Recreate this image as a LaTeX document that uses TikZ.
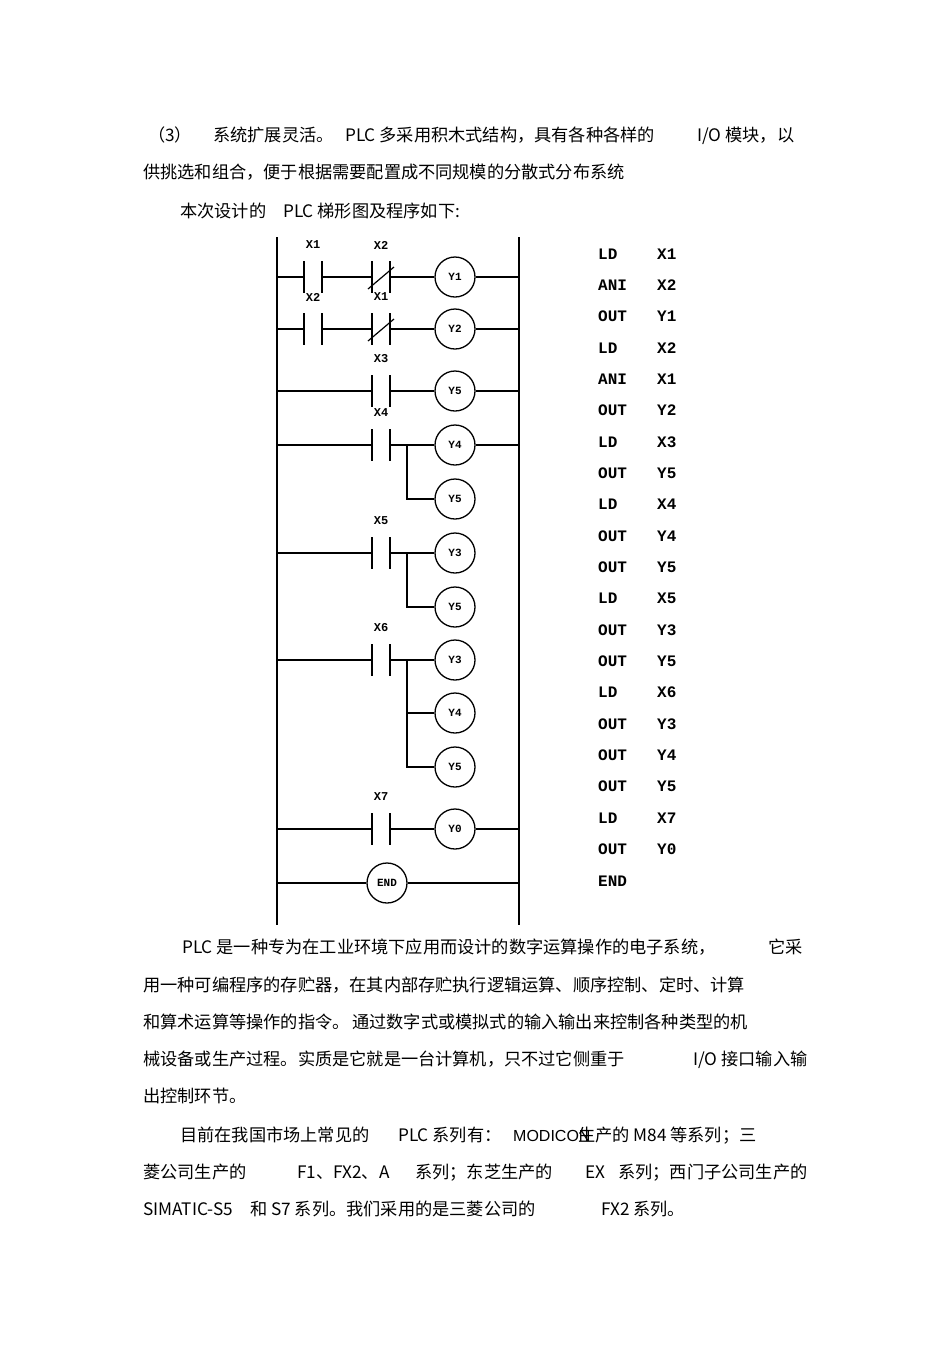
\documentclass[tikz,border=0pt]{standalone}
\usepackage{fontspec}
\setmainfont{Noto Sans CJK SC}
\newfontfamily\ladfont{Liberation Mono}
\newfontfamily\latfont{Liberation Sans}
\tikzset{
  txt/.style={anchor=base west,inner sep=0pt,font=\fontsize{17.2}{20}\selectfont},
  wire/.style={line width=1.6pt},
  coil/.style={circle,draw,line width=1.3pt,minimum size=40pt,inner sep=0pt,font=\ladfont\bfseries\fontsize{11}{12}\selectfont},
  clab/.style={inner sep=0pt,font=\ladfont\bfseries\fontsize{12}{13}\selectfont},
  ins/.style={anchor=base west,inner sep=0pt,font=\ladfont\bfseries\fontsize{16}{17}\selectfont}
}
\newcommand{\mycontact}[4]{%
  \draw[wire] (#1,#2-16) -- (#1,#2+16);
  \draw[wire] (#1+18,#2-16) -- (#1+18,#2+16);
  \node[clab] (#4) at (#1+9,#2-32) {#3};
}
\newcommand{\myslash}[2]{\draw[line width=1.2pt] (#1-4,#2+12) -- (#1+22,#2-10);}
\begin{document}
\begin{tikzpicture}[x=1pt,y=-1pt]
\useasboundingbox (0,0) rectangle (950,1345);
\fill[white] (0,0) rectangle (950,1345);
\node[txt] (a1) at (148,141) {（3）};
\node[txt] (a2) at (213,141) {系统扩展灵活。};
\node[txt] (a3) at (345,141) {PLC 多采用积木式结构，具有各种各样的};
\node[txt] (a4) at (697,141) {I/O 模块，以};
\node[txt] (b1) at (143,178) {供挑选和组合，便于根据需要配置成不同规模的分散式分布系统};
\node[txt] (c1) at (180,217) {本次设计的};
\node[txt] (c2) at (283,217) {PLC 梯形图及程序如下:};
\coordinate (L0) at (277,237); \coordinate (L1) at (277,925);
\coordinate (R0) at (519,237); \coordinate (R1) at (519,925);
\draw[wire] (L0) -- (L1);
\draw[wire] (R0) -- (R1);
\node[coil] (y1) at (455,277) {Y1};
\node[coil] (y2) at (455,329) {Y2};
\node[coil] (y5a) at (455,391) {Y5};
\node[coil] (y4a) at (455,445) {Y4};
\node[coil] (y5b) at (455,499) {Y5};
\node[coil] (y3a) at (455,553) {Y3};
\node[coil] (y5c) at (455,607) {Y5};
\node[coil] (y3b) at (455,660) {Y3};
\node[coil] (y4b) at (455,713) {Y4};
\node[coil] (y5d) at (455,767) {Y5};
\node[coil] (y0) at (455,829) {Y0};
\node[coil] (endc) at (387,883) {END};
\mycontact{304}{277}{X1}{k1}
\mycontact{372}{277}{X2}{k2}\myslash{372}{277}
\draw[wire] (277,277) -- (304,277) (322,277) -- (372,277) (390,277) -- (y1.west) (y1.east) -- (519,277);
\mycontact{304}{329}{X2}{k3}
\mycontact{372}{329}{X1}{k4}\myslash{372}{329}
\draw[wire] (277,329) -- (304,329) (322,329) -- (372,329) (390,329) -- (y2.west) (y2.east) -- (519,329);
\mycontact{372}{391}{X3}{k5}
\draw[wire] (277,391) -- (372,391) (390,391) -- (y5a.west) (y5a.east) -- (519,391);
\mycontact{372}{445}{X4}{k6}
\draw[wire] (277,445) -- (372,445) (390,445) -- (y4a.west) (y4a.east) -- (519,445);
\draw[wire] (407,445) -- (407,499) -- (y5b.west);
\mycontact{372}{553}{X5}{k7}
\draw[wire] (277,553) -- (372,553) (390,553) -- (y3a.west);
\draw[wire] (407,553) -- (407,607) -- (y5c.west);
\mycontact{372}{660}{X6}{k8}
\draw[wire] (277,660) -- (372,660) (390,660) -- (y3b.west);
\draw[wire] (407,660) -- (407,767) -- (y5d.west);
\draw[wire] (407,713) -- (y4b.west);
\mycontact{372}{829}{X7}{k9}
\draw[wire] (277,829) -- (372,829) (390,829) -- (y0.west) (y0.east) -- (519,829);
\draw[wire] (277,883) -- (endc.west) (endc.east) -- (519,883);
\foreach \i/\op/\arg in {0/LD/X1,1/ANI/X2,2/OUT/Y1,3/LD/X2,4/ANI/X1,5/OUT/Y2,6/LD/X3,7/OUT/Y5,8/LD/X4,9/OUT/Y4,10/OUT/Y5,11/LD/X5,12/OUT/Y3,13/OUT/Y5,14/LD/X6,15/OUT/Y3,16/OUT/Y4,17/OUT/Y5,18/LD/X7,19/OUT/Y0,20/END/{}}
{ \node[ins] (op\i) at (598,259+31.35*\i) {\op};
  \node[ins] (ar\i) at (657,259+31.35*\i) {\arg}; }
\node[txt] (d1) at (182,953) {PLC 是一种专为在工业环境下应用而设计的数字运算操作的电子系统，};
\node[txt] (d2) at (768,953) {它采};
\node[txt] (e1) at (143,991) {用一种可编程序的存贮器，在其内部存贮执行逻辑运算、顺序控制、定时、计算};
\node[txt] (f1) at (143,1028) {和算术运算等操作的指令。};
\node[txt] (f2) at (352,1028) {通过数字式或模拟式的输入输出来控制各种类型的机};
\node[txt] (g1) at (143,1065) {械设备或生产过程。实质是它就是一台计算机，只不过它侧重于};
\node[txt] (g2) at (693,1065) {I/O 接口输入输};
\node[txt] (h1) at (143,1102) {出控制环节。};
\node[txt] (i1) at (180,1141) {目前在我国市场上常见的};
\node[txt] (i2) at (398,1141) {PLC 系列有：};
\node[txt,font=\latfont\fontsize{16}{18}\selectfont] (i2b) at (513,1141) {MODICON};
\node[txt] (i3) at (578,1141) {生产的 M84 等系列；三};
\node[txt] (j1) at (143,1178) {菱公司生产的};
\node[txt] (j2) at (297,1178) {F1、FX2、A};
\node[txt] (j3) at (415,1178) {系列；东芝生产的};
\node[txt] (j4) at (585,1178) {EX};
\node[txt] (j5) at (618,1178) {系列；西门子公司生产的};
\node[txt] (k1t) at (143,1215) {SIMATIC-S5};
\node[txt] (k2t) at (250,1215) {和 S7 系列。我们采用的是三菱公司的};
\node[txt] (k3t) at (601,1215) {FX2 系列。};
\end{tikzpicture}
\end{document}
